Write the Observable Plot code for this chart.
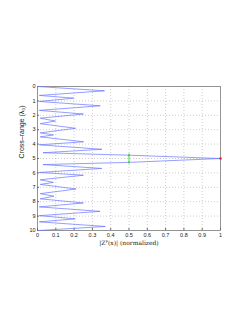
<!DOCTYPE html>
<html>
<head>
<meta charset="utf-8">
<script src="https://cdn.jsdelivr.net/npm/d3@7"></script>
<script src="https://cdn.jsdelivr.net/npm/@observablehq/plot@0.6"></script>
<style>
  html, body { margin: 0; padding: 0; background: #fff; }
  #chart svg { display: block; }
</style>
</head>
<body>
<div id="chart"></div>
<script>
// Zig-zag pattern: cross-range position (λ0) and normalized |Z(x)|
const crossRange = [0, 0.30, 0.62, 0.81, 1.04, 1.34, 1.66, 1.91, 2.20, 2.40, 2.58, 2.90, 3.22, 3.36, 3.50, 3.84, 4.05, 4.36, 4.60, 4.77, 5.00, 5.27, 5.42, 5.69, 5.97, 6.16, 6.48, 6.66, 6.80, 7.12, 7.44, 7.62, 7.80, 8.09, 8.36, 8.67, 8.97, 9.19, 9.40, 9.72, 10.0];
const amplitude  = [0.0, 0.366, 0.01, 0.198, 0.01, 0.343, 0.01, 0.251, 0.015, 0.098, 0.015, 0.208, 0.015, 0.088, 0.015, 0.252, 0.01, 0.352, 0.03, 0.5, 1.0, 0.5, 0.03, 0.351, 0.01, 0.251, 0.015, 0.087, 0.015, 0.211, 0.015, 0.09, 0.015, 0.251, 0.01, 0.342, 0.01, 0.206, 0.01, 0.37, 0.005];

// Half-power marker (green) and peak (red)
const halfLevel = [0.5];
const halfSpan = [4.77, 5.27];
const peak = [{x: 1, y: 5}];

const xTicks = [0, 0.1, 0.2, 0.3, 0.4, 0.5, 0.6, 0.7, 0.8, 0.9, 1];
const xTickLabels = ["0", "0.1", "0.2", "0.3", "0.4", "0.5", "0.6", "0.7", "0.8", "0.9", "1"];
const yTicks = [0, 1, 2, 3, 4, 5, 6, 7, 8, 9, 10];

const xLabel = "|Zᴾ(x)| (normalized)";
const yLabel = "Cross–range (λ₀)";

const pts = crossRange.map((y, i) => ({y, x: amplitude[i]}));

const chart = Plot.plot({
  width: 249,
  height: 323,
  marginLeft: 37,
  marginRight: 29,
  marginTop: 86,
  marginBottom: 93,
  style: {fontFamily: "Liberation Sans, Arial, sans-serif", fontSize: "5.5px", background: "#fff", color: "#222"},
  x: {domain: [0, 1], ticks: xTicks, label: null},
  y: {domain: [0, 10], reverse: true, ticks: yTicks, label: null},
  marks: [
    Plot.gridX(xTicks.slice(1, -1), {stroke: "#aaa", strokeOpacity: 1, strokeDasharray: "1,2", strokeWidth: 0.6}),
    Plot.gridY(yTicks.slice(1, -1), {stroke: "#aaa", strokeOpacity: 1, strokeDasharray: "1,2", strokeWidth: 0.6}),
    Plot.frame({stroke: "#666", strokeWidth: 0.7}),
    Plot.axisX(xTicks, {anchor: "bottom", tickSize: -2, tickPadding: 5, stroke: "#666", tickFormat: (d, i) => xTickLabels[i]}),
    Plot.axisY(yTicks, {anchor: "left", tickSize: -2, tickPadding: 4, stroke: "#666", tickFormat: d => String(d)}),
    Plot.line(pts, {x: "x", y: "y", stroke: "#6a78ff", strokeWidth: 0.8, strokeOpacity: 0.9}),
    Plot.ruleX(halfLevel, {y1: halfSpan[0] - 0.08, y2: halfSpan[1] + 0.08, stroke: "#44dd44", strokeWidth: 1}),
    Plot.dot(halfSpan.map(y => ({x: halfLevel[0], y})), {x: "x", y: "y", r: 1, fill: "#33cc33"}),
    Plot.dot(peak, {x: "x", y: "y", r: 1.3, fill: "#ff2222"}),
    Plot.text([xLabel], {frameAnchor: "bottom", dy: 14, text: d => d, fontFamily: "DejaVu Serif, serif", fontSize: 6, fill: "#222"}),
    Plot.text([yLabel], {frameAnchor: "left", dx: -16, rotate: -90, text: d => d, fontSize: 7, fill: "#222"})
  ]
});
document.getElementById("chart").appendChild(chart);
</script>
</body>
</html>
